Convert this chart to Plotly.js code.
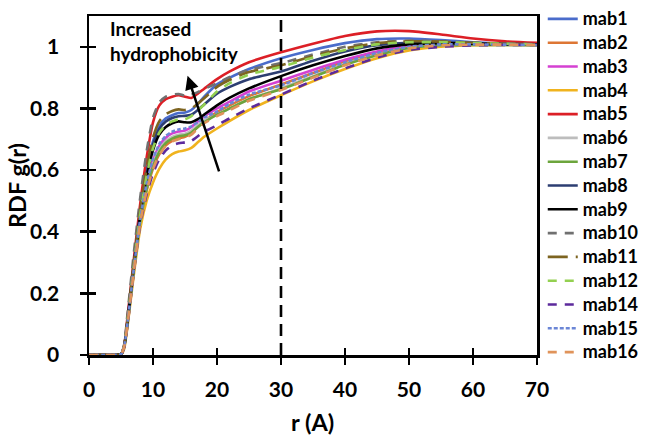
<!DOCTYPE html>
<html>
<head>
<meta charset="utf-8">
<script src="https://cdn.plot.ly/plotly-3.0.1.min.js"></script>
<style>html,body{margin:0;padding:0;background:#fff;}#chart{width:650px;height:443px;}</style>
</head>
<body>
<div id="chart"></div>
<script>
// r (Angstrom) grid
const r = [0,4,5,5.5,6,7,8,9,10,11,12,13,14,15,16,17,18,20,22,25,30,35,40,45,50,55,60,65,70];

const mab1  = [0,0,0.002,0.03,0.110,0.294,0.464,0.595,0.693,0.744,0.768,0.778,0.785,0.787,0.795,0.815,0.838,0.878,0.900,0.928,0.963,0.990,1.012,1.025,1.027,1.022,1.015,1.010,1.008];
const mab2  = [0,0,0.002,0.027,0.097,0.272,0.428,0.532,0.605,0.652,0.680,0.695,0.703,0.708,0.720,0.740,0.758,0.788,0.810,0.840,0.878,0.915,0.952,0.980,1.000,1.008,1.008,1.007,1.006];
const mab3  = [0,0,0.002,0.028,0.101,0.278,0.439,0.550,0.630,0.679,0.705,0.719,0.725,0.728,0.740,0.758,0.774,0.800,0.822,0.855,0.890,0.925,0.958,0.985,1.003,1.010,1.010,1.008,1.007];
const mab4  = [0,0,0.001,0.020,0.090,0.260,0.410,0.500,0.560,0.605,0.635,0.652,0.660,0.664,0.672,0.690,0.708,0.735,0.760,0.795,0.843,0.888,0.928,0.963,0.988,1.000,1.005,1.006,1.006];
const mab5  = [0,0,0.002,0.030,0.120,0.310,0.490,0.640,0.755,0.810,0.830,0.838,0.843,0.838,0.834,0.848,0.864,0.895,0.920,0.950,0.982,1.010,1.035,1.050,1.051,1.040,1.027,1.018,1.013];
const mab6  = [0,0,0.002,0.027,0.099,0.275,0.434,0.542,0.619,0.667,0.694,0.708,0.715,0.718,0.728,0.745,0.760,0.780,0.800,0.830,0.865,0.905,0.945,0.975,0.997,1.006,1.007,1.006,1.006];
const mab7  = [0,0,0.002,0.027,0.098,0.274,0.432,0.538,0.613,0.660,0.688,0.702,0.710,0.713,0.722,0.740,0.755,0.780,0.800,0.830,0.862,0.902,0.942,0.973,0.996,1.005,1.006,1.006,1.005];
const mab8  = [0,0,0.002,0.029,0.109,0.292,0.460,0.588,0.683,0.734,0.758,0.769,0.775,0.776,0.780,0.795,0.813,0.848,0.870,0.895,0.920,0.955,0.985,1.005,1.013,1.014,1.012,1.010,1.008];
const mab9  = [0,0,0.002,0.029,0.106,0.287,0.453,0.576,0.665,0.716,0.740,0.752,0.758,0.755,0.755,0.765,0.780,0.810,0.835,0.865,0.905,0.940,0.970,0.995,1.008,1.012,1.010,1.008,1.007];
const mab10 = [0,0,0.002,0.035,0.130,0.330,0.510,0.660,0.770,0.820,0.838,0.845,0.847,0.842,0.845,0.853,0.863,0.882,0.902,0.925,0.947,0.975,1.000,1.015,1.020,1.018,1.013,1.010,1.008];
const mab11 = [0,0,0.002,0.030,0.112,0.298,0.470,0.605,0.706,0.759,0.781,0.792,0.797,0.795,0.800,0.815,0.833,0.870,0.893,0.918,0.940,0.970,0.995,1.012,1.018,1.017,1.013,1.010,1.008];
const mab12 = [0,0,0.002,0.029,0.107,0.288,0.456,0.580,0.671,0.722,0.746,0.758,0.765,0.765,0.775,0.793,0.813,0.855,0.882,0.910,0.935,0.965,0.990,1.008,1.015,1.015,1.012,1.010,1.008];
const mab14 = [0,0,0.002,0.025,0.095,0.268,0.422,0.521,0.589,0.636,0.664,0.680,0.687,0.690,0.695,0.710,0.725,0.745,0.768,0.800,0.845,0.890,0.930,0.965,0.990,1.000,1.005,1.006,1.006];
const mab15 = [0,0,0.002,0.028,0.102,0.280,0.441,0.555,0.636,0.685,0.711,0.725,0.732,0.735,0.742,0.755,0.770,0.790,0.815,0.845,0.875,0.915,0.950,0.980,1.000,1.008,1.008,1.007,1.006];
const mab16 = [0,0,0.002,0.027,0.097,0.271,0.428,0.531,0.603,0.650,0.678,0.693,0.700,0.705,0.715,0.735,0.752,0.775,0.795,0.825,0.860,0.900,0.940,0.972,0.995,1.005,1.007,1.007,1.006];

const seriesNames = ['mab1','mab2','mab3','mab4','mab5','mab6','mab7','mab8','mab9','mab10','mab11','mab12','mab14','mab15','mab16'];
const seriesData  = [mab1,mab2,mab3,mab4,mab5,mab6,mab7,mab8,mab9,mab10,mab11,mab12,mab14,mab15,mab16];
const xTickVals = [0,10,20,30,40,50,60,70];
const yTickVals = [0,0.2,0.4,0.6,0.8,1];
const markerR = 30;  // vertical reference line position

const styles = {
  mab1:  {color:'#4A6CCB', dash:'solid'},
  mab2:  {color:'#DD7634', dash:'solid'},
  mab3:  {color:'#D540D2', dash:'solid'},
  mab4:  {color:'#F0B31E', dash:'solid'},
  mab5:  {color:'#DC1F26', dash:'solid'},
  mab6:  {color:'#BDBDBD', dash:'solid'},
  mab7:  {color:'#6CA53C', dash:'solid'},
  mab8:  {color:'#2D3E72', dash:'solid'},
  mab9:  {color:'#000000', dash:'solid'},
  mab10: {color:'#707070', dash:'9px,8px'},
  mab11: {color:'#7D6420', dash:'20px,8px'},
  mab12: {color:'#93D050', dash:'9px,8px'},
  mab14: {color:'#5C2A9C', dash:'9px,8px'},
  mab15: {color:'#6B86D6', dash:'4px,2px'},
  mab16: {color:'#E0935A', dash:'9px,8px'}
};

const FONT = 'Lato, "Open Sans", "DejaVu Sans", sans-serif';

const traces = seriesNames.map((n, i) => ({
  type: 'scatter', mode: 'lines', name: '<span style="font-size:18px">' + n + '</span>', x: r, y: seriesData[i],
  legendgroup: n,
  line: {color: styles[n].color, dash: styles[n].dash, width: 2.6, shape: 'spline', smoothing: 0.6}
}));
// dummy trace for the overlay axes (inside tick marks -> crossing ticks)
traces.push({type:'scatter', mode:'lines', x:[0,70], y:[0,0], xaxis:'x2', yaxis:'y2',
  line:{color:'rgba(0,0,0,0)', width:0}, showlegend:false, hoverinfo:'skip'});

const axisCommon = {
  showgrid:false, zeroline:false, showline:true, linecolor:'#000', linewidth:2.5,
  ticks:'outside', ticklen:7, tickwidth:2.5, tickcolor:'#000', mirror:true, automargin:false,
  tickfont:{family:FONT, size:21, weight:'bold', color:'#000'}
};

const layout = {
  width:650, height:443,
  margin:{l:89, r:113, t:16, b:88},
  paper_bgcolor:'#fff', plot_bgcolor:'#fff',
  showlegend:true,
  legend:{xref:'container', yref:'container', x:0.835, y:0.9955, xanchor:'left', yanchor:'top',
    tracegroupgap:0, maxheight:440,
    font:{family:FONT, size:16, weight:'bold', color:'#000'}, bgcolor:'rgba(0,0,0,0)'},
  xaxis: Object.assign({}, axisCommon, {range:[0,70], tickvals:xTickVals, ticklabelstandoff:7}),
  yaxis: Object.assign({}, axisCommon, {range:[0,1.1], tickvals:yTickVals, ticklabelstandoff:16}),
  xaxis2: {overlaying:'x', anchor:'y2', range:[0,70], tickvals:xTickVals, ticks:'inside', ticklen:7,
    tickwidth:2.5, tickcolor:'#000', showticklabels:false, showgrid:false, zeroline:false, showline:false},
  yaxis2: {overlaying:'y', anchor:'x2', range:[0,1.1], tickvals:yTickVals, ticks:'inside', ticklen:7,
    tickwidth:2.5, tickcolor:'#000', showticklabels:false, showgrid:false, zeroline:false, showline:false},
  shapes:[{type:'line', xref:'x', yref:'y', x0:markerR, x1:markerR, y0:0, y1:1.1,
    line:{color:'#000', width:2.6, dash:'12px,7px'}}],
  annotations:[
    {xref:'paper', yref:'paper', x:-0.1607, y:0.4985, xanchor:'center', yanchor:'middle',
      text:'RDF g(r)', textangle:-90, showarrow:false,
      font:{family:FONT, size:23.5, weight:'bold', color:'#000'}},
    {xref:'paper', yref:'paper', x:0.499, y:-0.197, xanchor:'center', yanchor:'middle',
      text:'r (A)', showarrow:false,
      font:{family:FONT, size:23.5, weight:'bold', color:'#000'}},
    {xref:'x', yref:'paper', x:2.9, y:0.9617, xanchor:'left', yanchor:'middle', align:'left',
      text:'Increased', showarrow:false,
      font:{family:FONT, size:19, weight:'bold', color:'#000'}},
    {xref:'x', yref:'paper', x:2.9, y:0.888, xanchor:'left', yanchor:'middle', align:'left',
      text:'hydrophobicity', showarrow:false,
      font:{family:FONT, size:19, weight:'bold', color:'#000'}},
    {xref:'x', yref:'y', x:15.4, y:0.906, axref:'x', ayref:'y', ax:20.4, ay:0.591, text:'',
      showarrow:true, arrowhead:2, arrowsize:1.1, arrowwidth:2.5, arrowcolor:'#000', standoff:0}
  ]
};

Plotly.newPlot('chart', traces, layout, {displayModeBar:false, staticPlot:true});
</script>
</body>
</html>
